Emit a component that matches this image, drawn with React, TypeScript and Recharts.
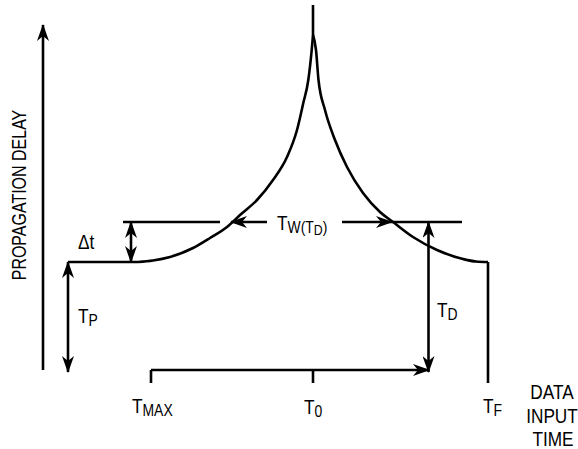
import { ComposedChart, Line, Scatter, XAxis, YAxis } from 'recharts';

// data units: time (T0 = 0) horizontally, propagation delay vertically
const leftBranch = [
    { x: -17.5, y: 10.8 }, { x: -16.0, y: 10.95 }, { x: -14.3, y: 11.3 }, { x: -12.0, y: 12.2 },
    { x: -10.3, y: 13.2 }, { x: -8.6, y: 14.3 }, { x: -7.3, y: 15.5 }, { x: -5.6, y: 17.0 },
    { x: -4.0, y: 19.0 }, { x: -2.6, y: 21.3 }, { x: -1.6, y: 24.0 }, { x: -0.97, y: 26.7 },
    { x: -0.47, y: 29.0 }, { x: -0.13, y: 32.0 }, { x: 0, y: 33.5 },
];
const rightBranch = [
    { x: 0, y: 33.5 }, { x: 0.3, y: 32.0 }, { x: 0.55, y: 29.0 }, { x: 1.2, y: 26.0 },
    { x: 2.2, y: 23.0 }, { x: 3.4, y: 20.3 }, { x: 5.0, y: 17.7 }, { x: 6.7, y: 15.8 },
    { x: 8.0, y: 14.8 }, { x: 10.0, y: 13.3 }, { x: 12.4, y: 12.0 }, { x: 15.0, y: 11.1 },
    { x: 16.3, y: 10.85 }, { x: 17.5, y: 10.8 },
];

// key levels of the diagram
const T_MAX = -16.2;
const T_0 = 0;
const T_F = 17.5;
const T_P = 10.8;
const T_D = 14.8;
const T_W_LEFT = -8.2;
const T_W_RIGHT = 7.9;
const T_D_AT = 11.55;

// plain segments: [points, arrow at start, arrow at end]
const segments: [{ x: number; y: number }[], boolean, boolean][] = [
    [[{ x: -27, y: 0 }, { x: -27, y: 34.5 }], false, true], // delay axis
    [[{ x: -24.5, y: T_P }, { x: -24.5, y: -0.2 }], true, true], // Tp
    [[{ x: -24.5, y: T_P }, { x: -17.5, y: T_P }], false, false], // plateau
    [[{ x: -18.2, y: T_P }, { x: -18.2, y: T_D }], true, true], // delta t
    [[{ x: -19.0, y: T_D }, { x: -9.3, y: T_D }], false, false],
    [[{ x: -4.6, y: T_D }, { x: T_W_LEFT, y: T_D }], false, true],
    [[{ x: 2.9, y: T_D }, { x: T_W_RIGHT, y: T_D }], false, true],
    [[{ x: T_W_RIGHT, y: T_D }, { x: 14.9, y: T_D }], false, false],
    [[{ x: T_D_AT, y: T_D }, { x: T_D_AT, y: -0.2 }], true, true], // Td
    [[{ x: T_MAX, y: 0 }, { x: T_D_AT + 0.05, y: 0 }], false, true], // time axis
    [[{ x: T_MAX, y: 0 }, { x: T_MAX, y: -1.3 }], false, false],
    [[{ x: T_0, y: 0 }, { x: T_0, y: -1.3 }], false, false],
    [[{ x: T_F, y: T_P }, { x: T_F, y: -1.3 }], false, false],
    [[{ x: 0, y: 33.5 }, { x: 0, y: 36.5 }], false, false], // cusp
];

// text parts: [text, level] level 0 = normal, 1 = subscript, 2 = sub-subscript
const labels = [
    { x: -23.5, y: 12.1, parts: [['Δt', 0]] },
    { x: -23.5, y: 4.7, parts: [['T', 0], ['P', 1]] },
    { x: -18.1, y: -4.3, parts: [['T', 0], ['MAX', 1]] },
    { x: -0.9, y: -4.4, parts: [['T', 0], ['0', 1]] },
    { x: 17.0, y: -4.3, parts: [['T', 0], ['F', 1]] },
    { x: 12.4, y: 5.3, parts: [['T', 0], ['D', 1]] },
    { x: -3.6, y: 14.0, parts: [['T', 0], ['W(T', 1], ['D', 2], [')', 1]] },
];
const sideLabel = [{ x: -28.7, y: 17.5, text: 'PROPAGATION DELAY' }];
const timeLabel = [
    { x: 23.9, y: -2.9, text: 'DATA' },
    { x: 23.9, y: -5.3, text: 'INPUT' },
    { x: 24.0, y: -7.6, text: 'TIME' },
];

const FONT = '"Liberation Sans", Arial, sans-serif';
const NARROW = 0.82; // the original uses a condensed face
const SIZES = [21, 17, 15];
const SHIFT = [0, 3, 5];

function RichLabel(props: any) {
    const { cx, cy, payload } = props;
    let level = 0;
    return (
        <text transform={`translate(${cx},${cy}) scale(${NARROW},1)`} fontFamily={FONT} fontSize={21} fill="#000">
            {payload.parts.map(([t, l]: [string, number], i: number) => {
                const dy = SHIFT[l] - SHIFT[level];
                level = l;
                return (
                    <tspan key={i} dy={dy} fontSize={SIZES[l]}>
                        {t}
                    </tspan>
                );
            })}
        </text>
    );
}

function SideLabel(props: any) {
    const { cx, cy, payload } = props;
    return (
        <text transform={`translate(${cx},${cy}) rotate(-90) scale(${NARROW},1)`} textAnchor="middle"
            fontFamily={FONT} fontSize={19.5} fill="#000">
            {payload.text}
        </text>
    );
}

function CenterLabel(props: any) {
    const { cx, cy, payload } = props;
    return (
        <text transform={`translate(${cx},${cy}) scale(${NARROW},1)`} textAnchor="middle"
            fontFamily={FONT} fontSize={21} fill="#000">
            {payload.text}
        </text>
    );
}

const stroke = { stroke: '#000', strokeWidth: 2.6, dot: false, activeDot: false, isAnimationActive: false, legendType: 'none' as const };

export default function App() {
    return (
        <div style={{ position: 'absolute', left: 0, top: 0, width: 578, height: 449, background: '#fff' }}>
            <ComposedChart width={578} height={449} margin={{ top: 0, right: 0, bottom: 0, left: 0 }}>
                <defs>
                    <marker id="head" viewBox="0 0 17 12" markerWidth={17} markerHeight={12} refX={16} refY={6}
                        markerUnits="userSpaceOnUse" orient="auto-start-reverse">
                        <path d="M0,0 L17,6 L0,12 L5,6 Z" fill="#000" />
                    </marker>
                </defs>
                <XAxis type="number" dataKey="x" domain={[-31.3, 26.5]} hide allowDataOverflow />
                <YAxis type="number" dataKey="y" domain={[-7.9, 37]} hide allowDataOverflow />
                {segments.map(([pts, start, end], i) => (
                    <Line key={`seg-${i}`} data={pts} dataKey="y" type="linear" {...stroke}
                        markerStart={start ? 'url(#head)' : undefined}
                        markerEnd={end ? 'url(#head)' : undefined} />
                ))}
                <Line data={leftBranch} dataKey="y" type="monotone" {...stroke} />
                <Line data={rightBranch} dataKey="y" type="monotone" {...stroke} />
                <Scatter data={labels} dataKey="y" shape={RichLabel} isAnimationActive={false} legendType="none" />
                <Scatter data={sideLabel} dataKey="y" shape={SideLabel} isAnimationActive={false} legendType="none" />
                <Scatter data={timeLabel} dataKey="y" shape={CenterLabel} isAnimationActive={false} legendType="none" />
            </ComposedChart>
        </div>
    );
}
